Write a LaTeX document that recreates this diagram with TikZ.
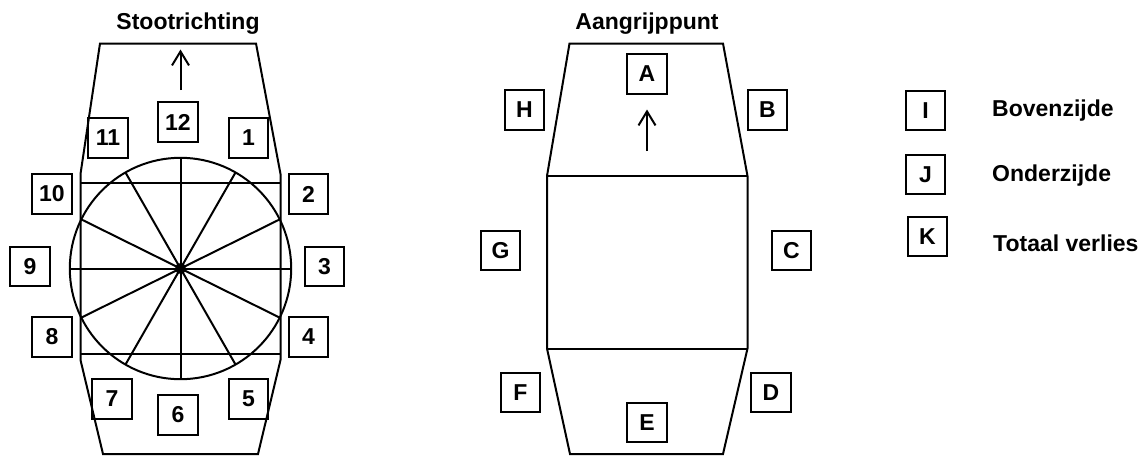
\documentclass[tikz,border=0pt]{standalone}
\usepackage{fontspec}
\setmainfont{Liberation Sans}
\usetikzlibrary{arrows.meta,calc}
\tikzset{
  lbox/.style={draw=black,line width=2pt,minimum size=39.5pt,inner sep=0pt,outer sep=0pt,font=\bfseries\fontsize{23}{23}\selectfont},
  ttl/.style={anchor=base,inner sep=0pt,font=\bfseries\fontsize{23}{23}\selectfont},
  lgd/.style={anchor=base west,inner sep=0pt,font=\bfseries\fontsize{23}{23}\selectfont},
  ln/.style={draw=black,line width=2pt,line join=miter},
  arr/.style={ln,-{Straight Barb[length=14pt,width=17pt,line width=2pt]}},
}
\begin{document}
\begin{tikzpicture}[x=1pt,y=-1pt]
\useasboundingbox (0,0) rectangle (1148,455);
% left figure
\node[ttl] (t1) at (188,29.3) {Stootrichting};
\path (100,43.5) coordinate (a1) (256,43.5) coordinate (a2) (280.5,174) coordinate (a3)
      (280.5,360) coordinate (a4) (258,454) coordinate (a5) (103,454) coordinate (a6)
      (80.5,360) coordinate (a7) (80.5,174) coordinate (a8);
\draw[ln] (a1)--(a2)--(a3)--(a4)--(a5)--(a6)--(a7)--(a8)--cycle;
\coordinate (c) at (180.5,268.5);
\draw[ln] (c) circle (110.7pt);
\draw[ln] (80.5,182.5) coordinate (h1) -- (280.5,182.5) coordinate (h2);
\draw[ln] (80.5,354) coordinate (h3) -- (280.5,354) coordinate (h4);
\foreach \n/\dx/\dy in {s1/55/-96,s2/99/-49,s3/110.7/0,s4/99/49,s5/55/96,s6/0/110.7,s7/-55/96,s8/-99/49,s9/-110.7/0,s10/-99/-49,s11/-55/-96,s12/0/-110.7}{
  \coordinate (\n) at ($(c)+(\dx,\dy)$);
  \draw[ln] (c) -- (\n);
}
\node[circle,fill=black,minimum size=11pt,inner sep=0pt] (hub) at (c) {};
\coordinate (u1) at (180.5,90);
\coordinate (u2) at (180.5,49.5);
\draw[arr] (u1) -- (u2);
\node[lbox] (n12) at (178,122) {12};
\node[lbox] (n11) at (108,138) {11};
\node[lbox] (n1) at (248.5,138) {1};
\node[lbox] (n10) at (52,194) {10};
\node[lbox] (n2) at (308.5,194) {2};
\node[lbox] (n9) at (30,266.5) {9};
\node[lbox] (n3) at (324.5,266.5) {3};
\node[lbox] (n8) at (52,337) {8};
\node[lbox] (n4) at (308.5,337) {4};
\node[lbox] (n7) at (112,399) {7};
\node[lbox] (n5) at (248.5,399) {5};
\node[lbox] (n6) at (178,415) {6};
% middle figure
\node[ttl] (t2) at (647,29.3) {Aangrijppunt};
\path (569.5,43.5) coordinate (b1) (723,43.5) coordinate (b2) (747.5,176) coordinate (b3)
      (747.5,348.5) coordinate (b4) (723,454) coordinate (b5) (570,454) coordinate (b6)
      (547,348.5) coordinate (b7) (547,176) coordinate (b8);
\draw[ln] (b1)--(b2)--(b3)--(b4)--(b5)--(b6)--(b7)--(b8)--cycle;
\draw[ln] (b8)--(b3) (b7)--(b4);
\coordinate (v1) at (647,151);
\coordinate (v2) at (647,109.5);
\draw[arr] (v1) -- (v2);
\node[lbox] (A) at (647,74) {A};
\node[lbox] (H) at (524.5,110) {H};
\node[lbox] (B) at (767.5,110) {B};
\node[lbox] (G) at (500.5,250.5) {G};
\node[lbox] (C) at (791.5,250.5) {C};
\node[lbox] (F) at (520.5,392.5) {F};
\node[lbox] (D) at (771,392.5) {D};
\node[lbox] (E) at (647,422.5) {E};
% legend
\node[lbox] (I) at (925.5,110.5) {I};
\node[lbox] (J) at (925.5,174.5) {J};
\node[lbox] (K) at (927.5,236.5) {K};
\node[lgd] (l1) at (992,116.7) {Bovenzijde};
\node[lgd] (l2) at (992,181) {Onderzijde};
\node[lgd] (l3) at (993,251) {Totaal verlies};
\end{tikzpicture}
\end{document}
